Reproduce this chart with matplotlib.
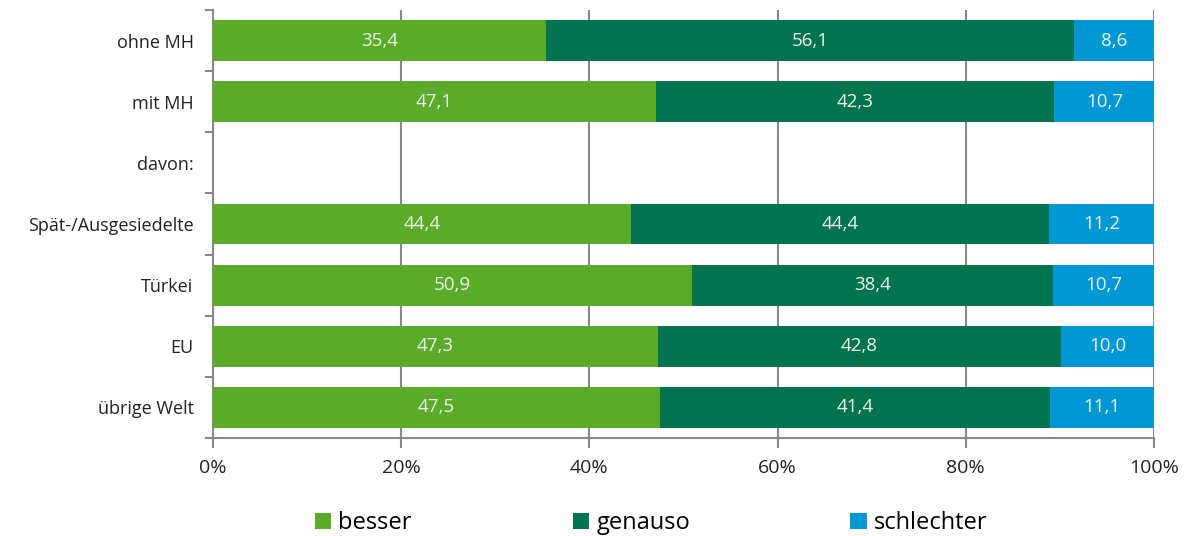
import numpy as np
import matplotlib as mpl
import matplotlib.pyplot as plt

mpl.rcParams['font.family'] = ['Open Sans', 'DejaVu Sans']

# data
categories = ['ohne MH', 'mit MH', 'davon:', 'Spät-/Ausgesiedelte', 'Türkei', 'EU', 'übrige Welt']
besser = [35.4, 47.1, np.nan, 44.4, 50.9, 47.3, 47.5]
genauso = [56.1, 42.3, np.nan, 44.4, 38.4, 42.8, 41.4]
schlechter = [8.6, 10.7, np.nan, 11.2, 10.7, 10.0, 11.1]
series_names = ['besser', 'genauso', 'schlechter']
colors = ['#5aab2a', '#00744f', '#0098d4']
xticks = [0, 20, 40, 60, 80, 100]

fig = plt.figure(figsize=(11.95, 5.36), dpi=100)
ax = fig.add_axes([213/1195, 98/536, 941/1195, 428/536])

y = np.arange(len(categories))
left = np.zeros(len(categories))
for vals, name, col in zip([besser, genauso, schlechter], series_names, colors):
    vals = np.array(vals)
    v = np.nan_to_num(vals)
    ax.barh(y, v, left=left, height=0.67, color=col, label=name, zorder=3)
    for yi, l, w, raw in zip(y, left, v, vals):
        if not np.isnan(raw):
            ax.text(l + w / 2, yi, ('%.1f' % raw).replace('.', ','), ha='center', va='center',
                    color='#eef4ea', fontsize=13.5, zorder=4)
    left = left + v

ax.set_xlim(0, 100)
ax.set_ylim(len(categories) - 0.5, -0.5)
ax.set_xticks(xticks)
ax.set_xticklabels(['%d%%' % t for t in xticks], fontsize=14, color='#222222')
ax.set_yticks(y)
ax.set_yticklabels(categories, fontsize=13, color='#222222')
ax.set_yticks(np.arange(len(categories) + 1) - 0.5, minor=True)
ax.tick_params(axis='y', which='major', length=0, pad=14)
ax.tick_params(axis='y', which='minor', length=6, width=1.5, color='#888888', direction='out')
ax.tick_params(axis='x', length=7, width=1.5, color='#888888', pad=8)
ax.xaxis.grid(True, color='#888888', linewidth=1.5, zorder=0)

for s in ['top', 'right']:
    ax.spines[s].set_visible(False)
for s in ['left', 'bottom']:
    ax.spines[s].set_color('#888888')
    ax.spines[s].set_linewidth(1.5)

fig.legend(loc='lower center', bbox_to_anchor=(0.545, -0.038), ncol=3, frameon=False,
           fontsize=17, handlelength=0.7, handleheight=0.7, handletextpad=0.3, columnspacing=6.8)

fig.savefig('out.png', dpi=100)
